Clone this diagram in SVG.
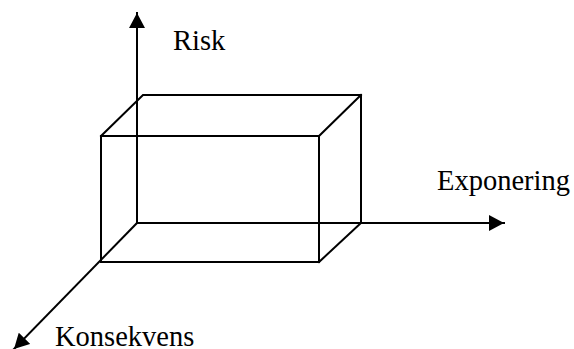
<svg xmlns="http://www.w3.org/2000/svg" width="574" height="349" viewBox="0 0 574 349">
  <style>
    .ln { stroke: #000; stroke-width: 2; fill: none; stroke-linecap: square; }
    .lbl { font-family: "Liberation Serif", "Times New Roman", serif; font-size: 28.5px; fill: #000; }
  </style>
  <defs>
    <marker id="arrow" viewBox="0 0 15 16" refX="15" refY="8" markerWidth="15" markerHeight="16" markerUnits="userSpaceOnUse" orient="auto">
      <path d="M0,0 L15,8 L0,16 Z" fill="#000"/>
    </marker>
  </defs>
  <rect width="574" height="349" fill="#fff"/>

  <!-- axes -->
  <g id="axes">
    <line class="ln" x1="137" y1="223" x2="137" y2="13" marker-end="url(#arrow)"/>
    <line class="ln" x1="137" y1="223" x2="504" y2="223" marker-end="url(#arrow)"/>
    <line class="ln" x1="137" y1="223" x2="14" y2="349" marker-end="url(#arrow)"/>
  </g>

  <!-- box -->
  <g id="box">
    <rect class="ln" x="101" y="136" width="218" height="126"/>
    <polyline class="ln" points="101,136 143,95 361,95 361,223"/>
    <line class="ln" x1="319" y1="136" x2="361" y2="95"/>
    <line class="ln" x1="319" y1="262" x2="361" y2="223"/>
  </g>

  <!-- labels -->
  <g id="label-risk"><text class="lbl" x="173" y="50">Risk</text></g>
  <g id="label-exponering"><text class="lbl" x="437" y="190">Exponering</text></g>
  <g id="label-konsekvens"><text class="lbl" x="55" y="346">Konsekvens</text></g>
</svg>
